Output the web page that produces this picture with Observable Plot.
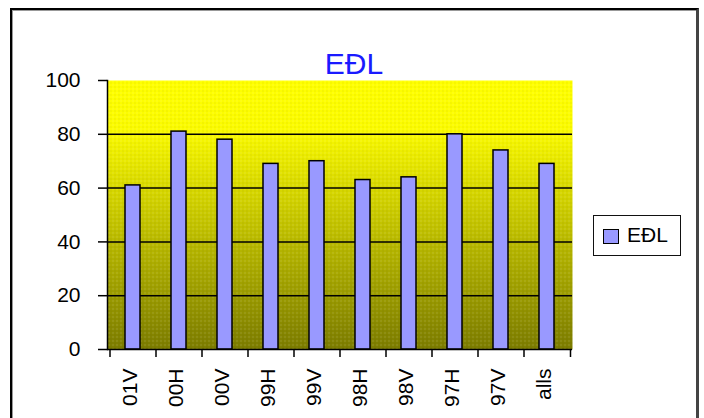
<!DOCTYPE html>
<html>
<head>
<meta charset="utf-8">
<script src="https://cdn.jsdelivr.net/npm/d3@7"></script>
<script src="https://cdn.jsdelivr.net/npm/@observablehq/plot@0.6"></script>
<style>
html, body { margin: 0; padding: 0; background: #fff; }
#wrap { position: relative; width: 704px; height: 418px; overflow: hidden; font-family: "Liberation Sans", Arial, sans-serif; }
#frame { position: absolute; left: 10px; top: 8px; width: 684px; height: 430px; border-left: 2px solid #000; border-top: 2px solid #000; border-right: 3px solid #444; box-shadow: inset 1px 1px 0 #999; pointer-events: none; }
#chart { position: absolute; left: 0; top: 0; }
#legend { position: absolute; left: 593px; top: 215px; width: 88px; height: 41px; box-sizing: border-box; border: 1.5px solid #111; background: #fff; }
#legend .sw { position: absolute; left: 9px; top: 13px; width: 16px; height: 15px; box-sizing: border-box; border: 1.5px solid #000; background: #9999ff; }
#legend .lb { position: absolute; left: 33px; top: 7px; font-size: 21px; line-height: 24px; color: #000; }
</style>
</head>
<body>
<div id="wrap">
  <div id="chart"></div>
  <div id="frame"></div>
  <div id="legend"><div class="sw"></div><div class="lb"></div></div>
</div>
<script>
const categories = ["01V", "00H", "00V", "99H", "99V", "98H", "98V", "97H", "97V", "alls"];
const values = [61, 81, 78, 69, 70, 63, 64, 80, 74, 69];
const yTicks = [0, 20, 40, 60, 80, 100];
const gridValues = [20, 40, 60, 80];
const seriesName = "EÐL";
const titleText = "EÐL";

const data = categories.map((c, i) => ({cat: c, value: values[i]}));

const gradientDefs = () => {
  const defs = d3.create("svg:defs");
  const g = defs.append("linearGradient").attr("id", "bgGrad")
    .attr("x1", 0).attr("y1", 0).attr("x2", 0).attr("y2", 1);
  [[0, "#ffff00"], [0.18, "#fbfb00"], [0.5, "#c8c800"], [1, "#7c7c00"]]
    .forEach(([o, c]) => g.append("stop").attr("offset", o).attr("stop-color", c));
  const p = defs.append("pattern").attr("id", "dither")
    .attr("width", 4).attr("height", 4).attr("patternUnits", "userSpaceOnUse");
  p.append("rect").attr("x", 0).attr("y", 0).attr("width", 1).attr("height", 1).attr("fill", "#ffffff").attr("fill-opacity", 0.3);
  p.append("rect").attr("x", 2).attr("y", 2).attr("width", 1).attr("height", 1).attr("fill", "#000000").attr("fill-opacity", 0.12);
  return defs.node();
};

const boundaryTicks = (index, scales, vals, dims) => {
  const g = d3.create("svg:g");
  const bw = (dims.width - dims.marginLeft - dims.marginRight) / categories.length;
  const xs = categories.map(c => scales.x(c));
  xs.push(xs[xs.length - 1] + bw);
  const y0 = scales.y(0);
  g.selectAll("line").data(xs).join("line")
    .attr("x1", d => d).attr("x2", d => d)
    .attr("y1", y0).attr("y2", y0 + 8)
    .attr("stroke", "#000").attr("stroke-width", 1.5);
  return g.node();
};

const chart = Plot.plot({
  width: 704,
  height: 418,
  marginLeft: 107,
  marginRight: 132,
  marginTop: 80,
  marginBottom: 69,
  style: {fontFamily: "'Liberation Sans', Arial, sans-serif", fontSize: "21px", color: "#000", background: "transparent"},
  x: {type: "band", domain: categories, padding: 0, label: null},
  y: {domain: [0, 100], label: null},
  marks: [
    gradientDefs,
    Plot.frame({fill: "url(#bgGrad)", stroke: null}),
    Plot.frame({fill: "url(#dither)", stroke: null}),
    Plot.ruleY(gridValues, {stroke: "#000", strokeWidth: 1.5}),
    Plot.barY(data, {x: "cat", y: "value", fill: "#9999ff", stroke: "#000", strokeWidth: 1.5, insetLeft: 15, insetRight: 16}),
    Plot.ruleY([0], {stroke: "#000", strokeWidth: 1.5}),
    Plot.frame({anchor: "left", stroke: "#000", strokeWidth: 1.5}),
    Plot.axisY({ticks: yTicks, tickSize: 9, tickPadding: 18, label: null, strokeWidth: 1.5, fill: "#000"}),
    Plot.axisX({tickSize: 0, tickPadding: 19, tickRotate: -90, label: null, fill: "#000", dx: -3}),
    boundaryTicks,
    Plot.text([titleText], {frameAnchor: "top", dy: -28, dx: 14, fontSize: 30, fill: "#1a1aff"})
  ]
});
document.getElementById("chart").appendChild(chart);
document.querySelector("#legend .lb").textContent = seriesName;
</script>
</body>
</html>
